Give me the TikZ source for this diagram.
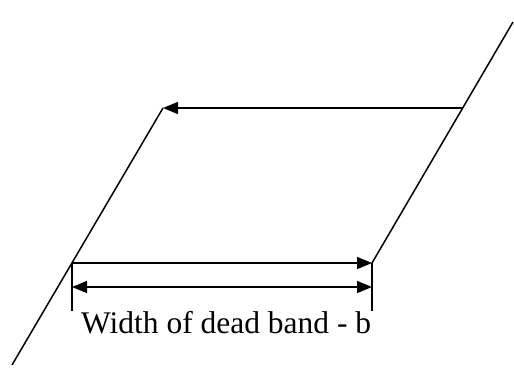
\documentclass[tikz,border=0pt]{standalone}
\usepackage{fontspec}
\setmainfont{Liberation Serif}
\usetikzlibrary{arrows.meta}
\tikzset{
  ln/.style={line width=1.5bp, black},
  arr/.style={ln, -{Triangle[length=15bp,width=12bp]}},
  dimarr/.style={ln, {Triangle[length=15bp,width=12bp]}-{Triangle[length=15bp,width=12bp]}},
  lbl/.style={inner sep=0pt, font=\fontsize{31.5bp}{36bp}\selectfont}
}
\begin{document}
\begin{tikzpicture}[x=1bp,y=-1bp]
\useasboundingbox (0,0) rectangle (514,369);
\coordinate (A) at (12,365);
\coordinate (B) at (72,263);
\coordinate (C) at (163,108);
\coordinate (D) at (463,108);
\coordinate (E) at (372,263);
\coordinate (F) at (513,22);
\coordinate (T1) at (72,311);
\coordinate (T2) at (372,311);
\coordinate (M1) at (72,287);
\coordinate (M2) at (372,287);
\draw[ln] (A) -- (C);
\draw[ln] (E) -- (F);
\draw[arr] (D) -- (C);
\draw[arr] (B) -- (E);
\draw[ln] (B) -- (T1);
\draw[ln] (E) -- (T2);
\draw[dimarr] (M1) -- (M2);
\node[lbl, anchor=base west] (L) at (81,333) {Width of dead band - b};
\end{tikzpicture}
\end{document}
